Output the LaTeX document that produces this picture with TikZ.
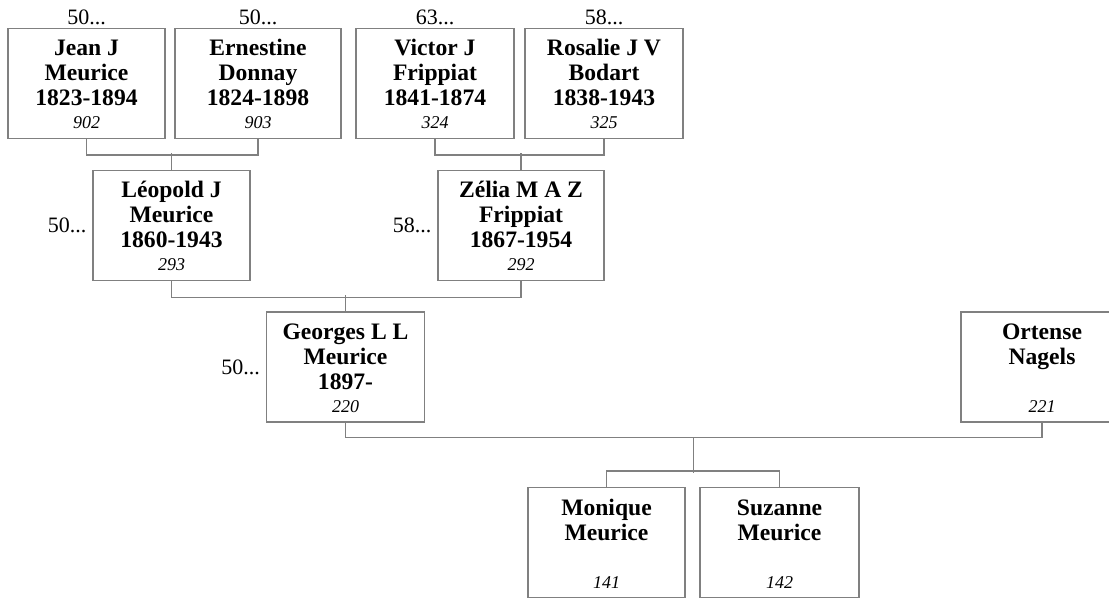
\documentclass[tikz,border=0pt]{standalone}
\usepackage{fontspec}
\setmainfont{Liberation Serif}
\usetikzlibrary{calc, positioning}

\tikzset{
  person/.style={draw=gray, line width=1.1pt, minimum height=110pt, inner sep=0pt,
    align=center, font=\fontsize{23.6}{25}\selectfont\bfseries},
  link/.style={draw=gray, line width=1.1pt},
  gen/.style={font=\fontsize{22}{24}\selectfont, inner sep=1pt}
}
\newcommand{\pnum}[1]{{\itshape\mdseries\fontsize{18}{25}\selectfont #1}}
\newcommand{\lineup}{\rule{0pt}{18pt}}

\begin{document}
\begin{tikzpicture}[x=1pt, y=-1pt]
\useasboundingbox (0,0) rectangle (1109,599);
\def\ya{83.5}
\def\yb{225.5}
\def\yc{367}
\def\yd{542.5}

% great-grandparents
\node[person, minimum width=157pt, label={[gen, label distance=2pt]above:50...}] (jean) at (86.5,\ya)
  {\lineup Jean J\\Meurice\\1823-1894\\[-2pt]\pnum{902}};
\node[person, minimum width=166pt, label={[gen, label distance=2pt]above:50...}] (ernestine) at (258,\ya)
  {\lineup Ernestine\\Donnay\\1824-1898\\[-2pt]\pnum{903}};
\node[person, minimum width=158pt, label={[gen, label distance=2pt]above:63...}] (victor) at (435,\ya)
  {\lineup Victor J\\Frippiat\\1841-1874\\[-2pt]\pnum{324}};
\node[person, minimum width=158pt, label={[gen, label distance=2pt]above:58...}] (rosalie) at (604,\ya)
  {\lineup Rosalie J V\\Bodart\\1838-1943\\[-2pt]\pnum{325}};

% grandparents
\node[person, minimum width=157pt, label={[gen, label distance=5pt]left:50...}] (leopold) at (171.5,\yb)
  {\lineup Léopold J\\Meurice\\1860-1943\\[-2pt]\pnum{293}};
\node[person, minimum width=166pt, label={[gen, label distance=5pt]left:58...}] (zelia) at (521,\yb)
  {\lineup Zélia M A Z\\Frippiat\\1867-1954\\[-2pt]\pnum{292}};

% parents
\node[person, minimum width=158pt, label={[gen, label distance=5pt]left:50...}] (georges) at (345.5,\yc)
  {\lineup Georges L L\\Meurice\\1897-\\[-2pt]\pnum{220}};
\node[person, minimum width=162pt] (ortense) at (1042,\yc)
  {\lineup Ortense\\Nagels\\\mbox{}\\[-2pt]\pnum{221}};

% children
\node[person, minimum width=157pt] (monique) at (606.5,\yd)
  {\lineup Monique\\Meurice\\\mbox{}\\[-2pt]\pnum{141}};
\node[person, minimum width=159pt] (suzanne) at (779.5,\yd)
  {\lineup Suzanne\\Meurice\\\mbox{}\\[-2pt]\pnum{142}};

% couples
\draw[link] (jean.south) -- ++(0,16) -| (ernestine.south);
\draw[link] (victor.south) -- ++(0,16) -| (rosalie.south);
\draw[link] (leopold.south) -- ++(0,16) -| (zelia.south);
\draw[link] (georges.south) -- ++(0,15) -| (ortense.south);

% descent
\draw[link] (leopold.north) -- ++(0,-17);
\draw[link] (zelia.north) -- ++(0,-17);
\draw[link] (georges.north) -- ++(0,-16);
\coordinate (fam) at ($(georges.south)!0.5!(ortense.south)+(0,15)$);
\draw[link] (fam) -- ++(0,35);
\draw[link] (monique.north) -- ++(0,-16) -| (suzanne.north);
\end{tikzpicture}
\end{document}
